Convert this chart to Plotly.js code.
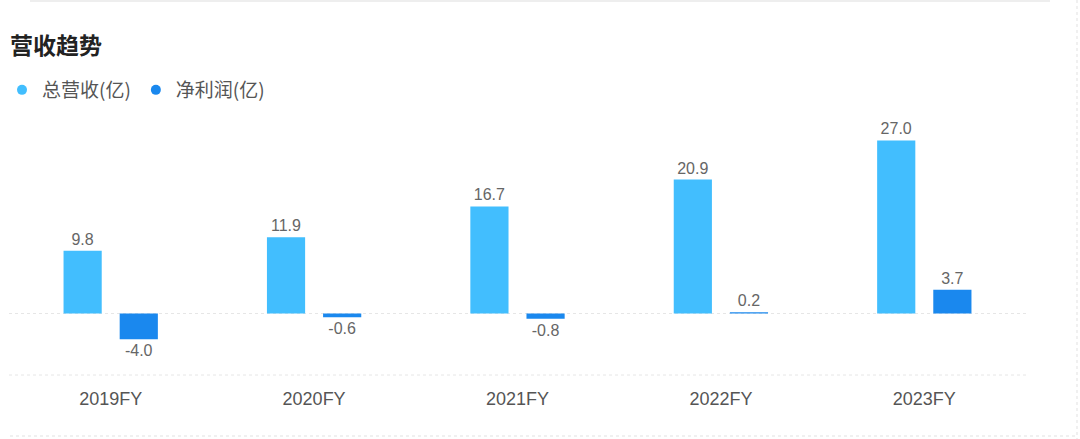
<!DOCTYPE html>
<html>
<head>
<meta charset="utf-8">
<script src="https://cdn.plot.ly/plotly-3.0.1.min.js"></script>
<style>
html,body{margin:0;padding:0;background:#fff;}
#chart{width:1080px;height:439px;}
</style>
</head>
<body>
<div id="chart"></div>
<script>
const categories = ['2019FY', '2020FY', '2021FY', '2022FY', '2023FY'];
const revenue = [9.8, 11.9, 16.7, 20.9, 27.0];
const netProfit = [-4.0, -0.6, -0.8, 0.2, 3.7];
const seriesNames = ['总营收(亿)', '净利润(亿)'];
const colors = ['#42BEFE', '#1A88EE'];

const W = 1080, H = 439;
const L = 9, R = 1026, T = 110, B = 375;
const px = x => (x - L) / (R - L);
const py = y => (B - y) / (B - T);

const fontFam = '"Liberation Sans", Arial, "Noto Sans CJK SC", sans-serif';
const cjkFam = '"Noto Sans CJK SC", "Liberation Sans", sans-serif';

const traces = [
  {type: 'bar', x: categories, y: revenue, name: seriesNames[0], showlegend: false,
   marker: {color: colors[0]}, texttemplate: '%{y:.1f}', textposition: 'outside',
   textfont: {size: 16, color: '#666', family: fontFam}, cliponaxis: false, hoverinfo: 'skip'},
  {type: 'bar', x: categories, y: netProfit, name: seriesNames[1], showlegend: false,
   marker: {color: colors[1]}, texttemplate: '%{y:.1f}', textposition: 'outside',
   textfont: {size: 16, color: '#666', family: fontFam}, cliponaxis: false, hoverinfo: 'skip'},
  {type: 'scatter', mode: 'markers', x: [null], y: [null], name: seriesNames[0],
   marker: {color: colors[0], size: 10, symbol: 'circle'}},
  {type: 'scatter', mode: 'markers', x: [null], y: [null], name: seriesNames[1],
   marker: {color: colors[1], size: 10, symbol: 'circle'}}
];

const dot = {color: '#e6e6e6', width: 1, dash: 'dot'};
const layout = {
  width: W, height: H,
  margin: {l: L, r: W - R, t: T, b: H - B, pad: 0, autoexpand: false},
  paper_bgcolor: '#fff', plot_bgcolor: '#fff',
  barmode: 'group', bargap: 0.448, bargroupgap: 0.32,
  showlegend: true,
  legend: {orientation: 'h', xref: 'container', yref: 'container', x: 2 / W, y: 1 - 90 / H,
           xanchor: 'left', yanchor: 'middle',
           font: {size: 19, color: '#555', family: cjkFam}, itemclick: false, bgcolor: 'rgba(0,0,0,0)'},
  xaxis: {type: 'category', showgrid: false, zeroline: false, showline: false, ticks: '',
          tickfont: {size: 18, color: '#555', family: fontFam}, ticklabelstandoff: 11, fixedrange: true},
  yaxis: {range: [-9.59, 31.75], showgrid: false, zeroline: false, showticklabels: false, fixedrange: true},
  annotations: [
    {text: '<b>营收趋势</b>', xref: 'paper', yref: 'paper', x: px(8), y: py(44),
     xanchor: 'left', yanchor: 'middle', showarrow: false,
     font: {size: 23, color: '#222', family: cjkFam}}
  ],
  shapes: [
    {type: 'line', xref: 'paper', yref: 'y', x0: 0, x1: 1, y0: 0, y1: 0, line: dot, layer: 'below'},
    {type: 'line', xref: 'paper', yref: 'paper', x0: 0, x1: 1, y0: 0, y1: 0, line: dot, layer: 'below'},
    {type: 'line', xref: 'paper', yref: 'paper', x0: px(30), x1: px(1050), y0: py(1), y1: py(1), line: {color: '#e8e8e8', width: 1.5}},
    {type: 'line', xref: 'paper', yref: 'paper', x0: px(1077), x1: px(1077), y0: py(0), y1: py(439), line: {color: '#ececec', width: 1.5, dash: 'dot'}},
    {type: 'line', xref: 'paper', yref: 'paper', x0: px(10), x1: px(1077), y0: py(436), y1: py(436), line: {color: '#ececec', width: 1.5, dash: 'dot'}}
  ]
};

Plotly.newPlot('chart', traces, layout, {displayModeBar: false, staticPlot: true});
</script>
</body>
</html>
